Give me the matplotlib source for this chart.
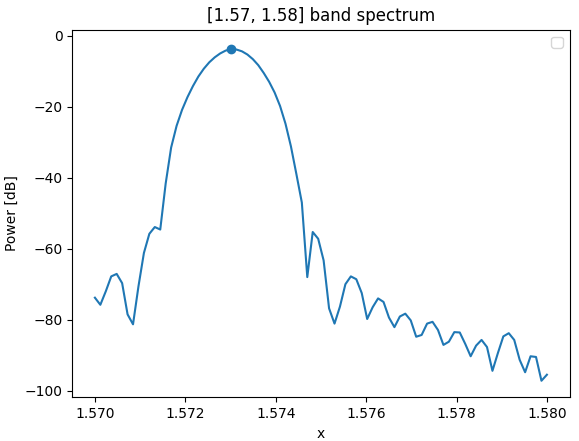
import numpy as np
import matplotlib
matplotlib.use("Agg")
import matplotlib.pyplot as plt

x_start = 1.570
x_stop = 1.580
n_points = 84

power_db = [
    -73.8, -75.8, -72.0, -67.8, -67.1, -69.7, -78.5, -81.3, -70.6, -61.2,
    -55.8, -53.9, -54.6, -41.6, -31.5, -25.4, -20.9, -17.3, -14.2, -11.5,
    -9.3, -7.5, -6.1, -5.0, -4.2, -3.8, -3.9, -4.4, -5.3, -6.6,
    -8.3, -10.5, -13.0, -16.0, -19.8, -24.8, -31.2, -39.0, -47.0, -68.0,
    -55.3, -57.2, -63.3, -76.8, -81.1, -76.3, -70.0, -67.8, -68.6, -72.5,
    -79.8, -76.5, -74.0, -75.0, -79.4, -82.1, -79.1, -78.3, -80.2, -84.8,
    -84.3, -81.1, -80.6, -82.9, -87.1, -86.2, -83.5, -83.6, -86.8, -90.3,
    -87.3, -85.7, -87.7, -94.4, -89.4, -84.7, -83.8, -85.7, -91.3, -94.8,
    -90.3, -90.5, -97.2, -95.5,
]

x = np.linspace(x_start, x_stop, n_points)
y = np.array(power_db)
ipk = int(np.argmax(y))

W, H = 579, 441
fig = plt.figure(figsize=(W / 100, H / 100), dpi=100)
left, right, top, bottom = 72.3, 569.5, 29.7, 397.3
ax = fig.add_axes([left / W, (H - bottom) / H, (right - left) / W, (bottom - top) / H])
ax.plot(x, y, color="C0")
ax.plot(x[ipk], y[ipk], "o", color="C0")
ax.set_title("[1.57, 1.58] band spectrum")
ax.set_xlabel("x")
ax.set_ylabel("Power [dB]")
ax.set_ylim(-101.86, 1.69)
ax.legend(handles=[], loc="upper right")
fig.savefig("out.png", dpi=100)
